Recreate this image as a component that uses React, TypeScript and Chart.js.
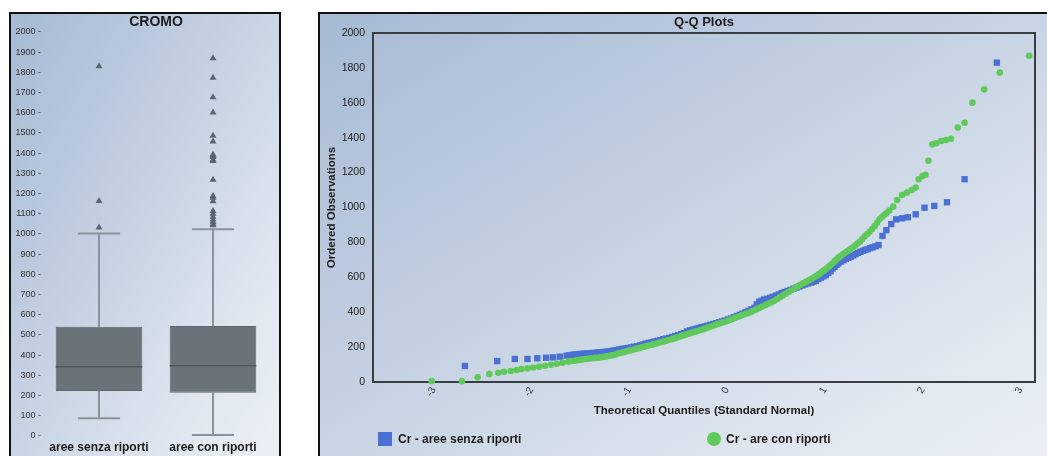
import React, { useEffect, useRef } from 'react';
import { Chart, registerables } from 'chart.js';
Chart.register(...registerables);

const FONT = '"Liberation Sans", Arial, Helvetica, sans-serif';

// ---------- Box plot data ----------
const boxCategories = ['aree senza riporti', 'aree con riporti'];
const boxQ1 = [223, 214];
const boxQ3 = [541, 545];
const boxMedian = [343, 348];
const whiskerLow = [88, 5];
const whiskerHigh = [1003, 1023];
const outliersSenza = [1032, 1163, 1830];
const outliersCon = [1043, 1050, 1060, 1072, 1085, 1100, 1114, 1162, 1180, 1188, 1268, 1362, 1368, 1381, 1387, 1394, 1458, 1486, 1601, 1677, 1773, 1870];

// ---------- Q-Q data: [theoretical quantile, ordered observation] ----------
const qqSenza: [number, number][] = [
  [-2.68, 92], [-2.35, 120], [-2.17, 132], [-2.04, 132], [-1.94, 136], [-1.85, 139], [-1.78, 141], [-1.71, 145],
  [-1.64, 151], [-1.61, 153], [-1.58, 156], [-1.55, 158], [-1.52, 160], [-1.49, 161], [-1.46, 163], [-1.43, 164],
  [-1.40, 165], [-1.37, 166], [-1.34, 168], [-1.31, 170], [-1.28, 171], [-1.25, 173], [-1.22, 175], [-1.19, 177],
  [-1.16, 180], [-1.13, 183], [-1.10, 187], [-1.07, 190], [-1.04, 192], [-1.01, 195], [-0.98, 198], [-0.95, 202],
  [-0.92, 205], [-0.89, 210], [-0.86, 215], [-0.83, 220], [-0.80, 224], [-0.77, 228], [-0.74, 232], [-0.71, 236],
  [-0.68, 240], [-0.65, 245], [-0.62, 249], [-0.59, 253], [-0.56, 258], [-0.53, 263], [-0.50, 268], [-0.47, 274],
  [-0.44, 280], [-0.41, 290], [-0.38, 296], [-0.35, 300], [-0.32, 305], [-0.29, 310], [-0.26, 314], [-0.23, 318],
  [-0.20, 323], [-0.17, 328], [-0.14, 332], [-0.11, 337], [-0.08, 342], [-0.05, 347], [-0.02, 352], [0.01, 358],
  [0.04, 364], [0.07, 371], [0.10, 378], [0.13, 385], [0.16, 392], [0.19, 400], [0.22, 408], [0.25, 416],
  [0.28, 425], [0.305, 445], [0.33, 460], [0.355, 466], [0.38, 472], [0.41, 477], [0.44, 482], [0.47, 488],
  [0.50, 495], [0.53, 502], [0.56, 510], [0.59, 516], [0.62, 522], [0.65, 528], [0.68, 535], [0.71, 541],
  [0.74, 548], [0.77, 554], [0.80, 560], [0.83, 565], [0.86, 570], [0.885, 575], [0.91, 580], [0.935, 590],
  [0.96, 598], [0.985, 605], [1.01, 612], [1.035, 625], [1.06, 635], [1.08, 650], [1.10, 660], [1.12, 672],
  [1.14, 680], [1.165, 690], [1.19, 698], [1.215, 705], [1.24, 712], [1.265, 718], [1.29, 725], [1.315, 733],
  [1.34, 740], [1.365, 746], [1.39, 752], [1.415, 757], [1.44, 762], [1.465, 767], [1.49, 772], [1.52, 778],
  [1.55, 785], [1.59, 837], [1.63, 870], [1.68, 905], [1.73, 932], [1.79, 938], [1.85, 944], [1.93, 961],
  [2.02, 999], [2.12, 1009], [2.25, 1030], [2.43, 1162], [2.76, 1830],
];
const qqCon: [number, number][] = [
  [-3.02, 5], [-2.71, 5], [-2.55, 27], [-2.43, 46], [-2.34, 53], [-2.28, 59], [-2.21, 63], [-2.15, 69],
  [-2.10, 74], [-2.04, 78], [-1.98, 83], [-1.92, 88], [-1.86, 93], [-1.80, 99], [-1.74, 105], [-1.68, 111],
  [-1.62, 117], [-1.59, 120], [-1.56, 122], [-1.53, 125], [-1.50, 127], [-1.47, 130], [-1.44, 132], [-1.41, 134],
  [-1.38, 136], [-1.35, 138], [-1.32, 139], [-1.29, 141], [-1.26, 144], [-1.23, 147], [-1.20, 150], [-1.17, 154],
  [-1.14, 158], [-1.11, 163], [-1.08, 168], [-1.05, 172], [-1.02, 177], [-0.99, 181], [-0.96, 185], [-0.93, 190],
  [-0.90, 194], [-0.87, 199], [-0.84, 203], [-0.81, 208], [-0.78, 212], [-0.75, 217], [-0.72, 221], [-0.69, 226],
  [-0.66, 230], [-0.63, 235], [-0.60, 240], [-0.57, 245], [-0.54, 250], [-0.51, 256], [-0.48, 261], [-0.45, 267],
  [-0.42, 272], [-0.39, 277], [-0.36, 282], [-0.33, 287], [-0.30, 292], [-0.27, 298], [-0.24, 303], [-0.21, 309],
  [-0.18, 315], [-0.15, 321], [-0.12, 327], [-0.09, 333], [-0.06, 338], [-0.03, 344], [0.0, 350], [0.03, 356],
  [0.06, 362], [0.09, 369], [0.12, 375], [0.15, 382], [0.18, 388], [0.21, 394], [0.24, 400], [0.27, 408],
  [0.30, 416], [0.33, 424], [0.36, 432], [0.39, 440], [0.42, 448], [0.45, 456], [0.48, 464], [0.51, 474],
  [0.54, 485], [0.57, 496], [0.60, 506], [0.63, 516], [0.66, 526], [0.69, 537], [0.72, 547], [0.75, 557],
  [0.78, 566], [0.81, 575], [0.84, 584], [0.865, 592], [0.89, 600], [0.915, 609], [0.94, 618], [0.965, 628],
  [0.99, 638], [1.015, 649], [1.04, 660], [1.06, 670], [1.08, 680], [1.10, 691], [1.12, 702], [1.14, 712],
  [1.16, 722], [1.185, 732], [1.21, 742], [1.235, 751], [1.26, 760], [1.285, 771], [1.31, 782], [1.335, 793],
  [1.36, 805], [1.385, 820], [1.41, 835], [1.435, 848], [1.46, 862], [1.485, 877], [1.51, 893], [1.535, 912],
  [1.56, 932], [1.585, 945], [1.61, 958], [1.635, 970], [1.66, 982], [1.70, 1005], [1.74, 1043], [1.79, 1072],
  [1.84, 1085], [1.89, 1100], [1.93, 1114], [1.96, 1162], [2.00, 1180], [2.03, 1188], [2.06, 1268], [2.10, 1362],
  [2.14, 1368], [2.19, 1381], [2.24, 1387], [2.29, 1394], [2.36, 1458], [2.43, 1486], [2.51, 1601], [2.63, 1677],
  [2.79, 1773], [3.09, 1870],
];
const qqXTicks = [-3, -2, -1, 0, 1, 2, 3];
const labelSenza = 'Cr - aree senza riporti';
const labelCon = 'Cr - are con riporti';

const BLUE = '#4a70d3';
const GREEN = '#60c95c';
const BOX_FILL = '#6b737a';
const BOX_EDGE = '#5e666d';
const MEDIAN = '#50585e';
const WHISKER = '#8a939a';
const OUTLIER = '#5a6570';
const TEXT = '#1c1c1c';

const PANEL_BG = 'linear-gradient(to bottom right, #a6bad4 0%, #c3d0e1 40%, #dfe6ef 75%, #eef2f7 100%)';

const boxPlugin = {
  id: 'boxWhiskers',
  beforeDatasetsDraw(chart: any) {
    const { ctx, scales } = chart;
    const x = scales.x, y = scales.y;
    const catW = x.getPixelForValue(1) - x.getPixelForValue(0);
    ctx.save();
    ctx.strokeStyle = WHISKER;
    ctx.lineWidth = 2;
    boxCategories.forEach((_, i) => {
      const cx = x.getPixelForValue(i);
      const half = catW * 0.185;
      const yHi = y.getPixelForValue(whiskerHigh[i]);
      const yLo = y.getPixelForValue(whiskerLow[i]);
      ctx.beginPath();
      ctx.moveTo(cx, y.getPixelForValue(boxQ3[i]));
      ctx.lineTo(cx, yHi);
      ctx.moveTo(cx, y.getPixelForValue(boxQ1[i]));
      ctx.lineTo(cx, yLo);
      ctx.moveTo(cx - half, yHi);
      ctx.lineTo(cx + half, yHi);
      ctx.moveTo(cx - half, yLo);
      ctx.lineTo(cx + half, yLo);
      ctx.stroke();
    });
    ctx.restore();
  },
  afterDatasetsDraw(chart: any) {
    const { ctx, scales } = chart;
    const x = scales.x, y = scales.y;
    const meta = chart.getDatasetMeta(0);
    ctx.save();
    ctx.strokeStyle = MEDIAN;
    ctx.lineWidth = 1.5;
    boxCategories.forEach((_, i) => {
      const bar = meta.data[i];
      const w = bar.width;
      const cx = x.getPixelForValue(i);
      const ym = y.getPixelForValue(boxMedian[i]);
      ctx.beginPath();
      ctx.moveTo(cx - w / 2, ym);
      ctx.lineTo(cx + w / 2, ym);
      ctx.stroke();
    });
    ctx.restore();
  },
};

const framePlugin = {
  id: 'frame',
  beforeDatasetsDraw(chart: any) {
    const { ctx, chartArea } = chart;
    ctx.save();
    ctx.strokeStyle = '#3a3d42';
    ctx.lineWidth = 2;
    ctx.strokeRect(chartArea.left, chartArea.top, chartArea.right - chartArea.left, chartArea.bottom - chartArea.top);
    ctx.restore();
  },
};

export default function App() {
  const boxRef = useRef<HTMLCanvasElement>(null);
  const qqRef = useRef<HTMLCanvasElement>(null);

  useEffect(() => {
    const outlierData = [
      ...outliersSenza.map((v) => ({ x: boxCategories[0], y: v })),
      ...outliersCon.map((v) => ({ x: boxCategories[1], y: v })),
    ];
    const boxChart = new Chart(boxRef.current as HTMLCanvasElement, {
      type: 'bar',
      data: {
        labels: boxCategories,
        datasets: [
          {
            type: 'bar',
            data: boxCategories.map((_, i) => [boxQ1[i], boxQ3[i]]),
            backgroundColor: BOX_FILL,
            borderColor: BOX_EDGE,
            borderWidth: 1,
            borderSkipped: false,
            categoryPercentage: 1,
            barPercentage: 0.76,
            order: 1,
          } as any,
          {
            type: 'line',
            data: outlierData,
            showLine: false,
            pointStyle: 'triangle',
            pointRadius: 4,
            backgroundColor: OUTLIER,
            borderColor: OUTLIER,
            borderWidth: 0,
            order: 0,
            clip: false,
          } as any,
        ],
      },
      options: {
        animation: false,
        responsive: false,
        layout: { padding: { left: 0, right: 9, top: 0, bottom: 0 } },
        plugins: {
          legend: { display: false },
          tooltip: { enabled: false },
          title: {
            display: true,
            text: 'CROMO',
            fullSize: false,
            color: TEXT,
            font: { family: FONT, size: 14, weight: 'bold' },
            padding: { top: 0, bottom: 1.2 },
          },
        },
        scales: {
          x: {
            grid: { display: false, drawTicks: false },
            border: { display: false },
            ticks: { color: TEXT, padding: 4, font: { family: FONT, size: 12, weight: 'bold' } },
            afterFit: (s: any) => { s.height = 20; },
          },
          y: {
            min: 0,
            max: 2000,
            grid: { display: false, drawTicks: false },
            border: { display: false },
            ticks: {
              stepSize: 100,
              autoSkip: false,
              padding: 1,
              color: '#333',
              font: { family: FONT, size: 9 },
              callback: (v: any) => `${v} -`,
            },
            afterFit: (s: any) => { s.width = 31; },
          },
        },
      } as any,
      plugins: [boxPlugin],
    });

    const qqChart = new Chart(qqRef.current as HTMLCanvasElement, {
      type: 'scatter',
      data: {
        datasets: [
          {
            label: labelCon,
            data: qqCon.map(([q, v]) => ({ x: q, y: v })),
            pointStyle: 'circle',
            pointRadius: 3.3,
            backgroundColor: GREEN,
            borderWidth: 0,
            order: 0,
            clip: false,
          } as any,
          {
            label: labelSenza,
            data: qqSenza.map(([q, v]) => ({ x: q, y: v })),
            pointStyle: 'rect',
            pointRadius: 4.5,
            backgroundColor: BLUE,
            borderWidth: 0,
            order: 1,
            clip: false,
          } as any,
        ],
      },
      options: {
        animation: false,
        responsive: false,
        layout: { padding: { left: 0, right: 53, top: 0, bottom: 34 } },
        plugins: {
          legend: { display: false },
          tooltip: { enabled: false },
          title: {
            display: true,
            text: 'Q-Q Plots',
            fullSize: false,
            color: TEXT,
            font: { family: FONT, size: 13, weight: 'bold' },
            padding: { top: 1, bottom: 2.4 },
          },
        },
        scales: {
          x: {
            type: 'linear',
            min: -3.62,
            max: 3.15,
            afterBuildTicks: (s: any) => { s.ticks = qqXTicks.map((v) => ({ value: v })); },
            grid: { display: false, drawTicks: false },
            border: { display: false },
            ticks: { minRotation: 60, maxRotation: 60, padding: 3, color: '#333', font: { family: FONT, size: 10 } },
            title: {
              display: true,
              text: 'Theoretical Quantiles (Standard Normal)',
              color: TEXT,
              font: { family: FONT, size: 11.5, weight: 'bold' },
              padding: { top: 0, bottom: 4 },
            },
            afterFit: (s: any) => { s.height = 40; },
          },
          y: {
            min: 0,
            max: 2000,
            grid: { display: false, drawTicks: false },
            border: { display: false },
            ticks: {
              stepSize: 200,
              padding: 8,
              color: '#222',
              font: { family: FONT, size: 10.5 },
              callback: (v: any) => String(v),
            },
            title: {
              display: true,
              text: 'Ordered Observations',
              color: TEXT,
              font: { family: FONT, size: 11.5, weight: 'bold' },
              padding: { top: 5, bottom: 0 },
            },
            afterFit: (s: any) => { s.width = 53; },
          },
        },
      } as any,
      plugins: [framePlugin],
    });

    return () => {
      boxChart.destroy();
      qqChart.destroy();
    };
  }, []);

  const legendText: React.CSSProperties = {
    position: 'absolute',
    top: 417,
    fontFamily: FONT,
    fontWeight: 'bold',
    fontSize: 12,
    lineHeight: '16px',
    color: TEXT,
    whiteSpace: 'nowrap',
  };

  return (
    <div style={{ position: 'fixed', left: 0, top: 0, width: 1047, height: 456, overflow: 'hidden', background: '#ffffff' }}>
      <div style={{ position: 'absolute', left: 9, top: 12, width: 268, height: 470, border: '2px solid #111', background: PANEL_BG }}>
        <canvas ref={boxRef} width={268} height={442} style={{ display: 'block' }} />
      </div>
      <div style={{ position: 'absolute', left: 318, top: 12, width: 768, height: 470, border: '2px solid #111', background: PANEL_BG }}>
        <canvas ref={qqRef} width={768} height={442} style={{ display: 'block' }} />
        <div style={{ position: 'absolute', left: 58, top: 418, width: 14, height: 14, background: BLUE }} />
        <div style={{ ...legendText, left: 78 }}>{labelSenza}</div>
        <div style={{ position: 'absolute', left: 387, top: 418, width: 14, height: 14, borderRadius: 7, background: GREEN }} />
        <div style={{ ...legendText, left: 406 }}>{labelCon}</div>
      </div>
    </div>
  );
}
